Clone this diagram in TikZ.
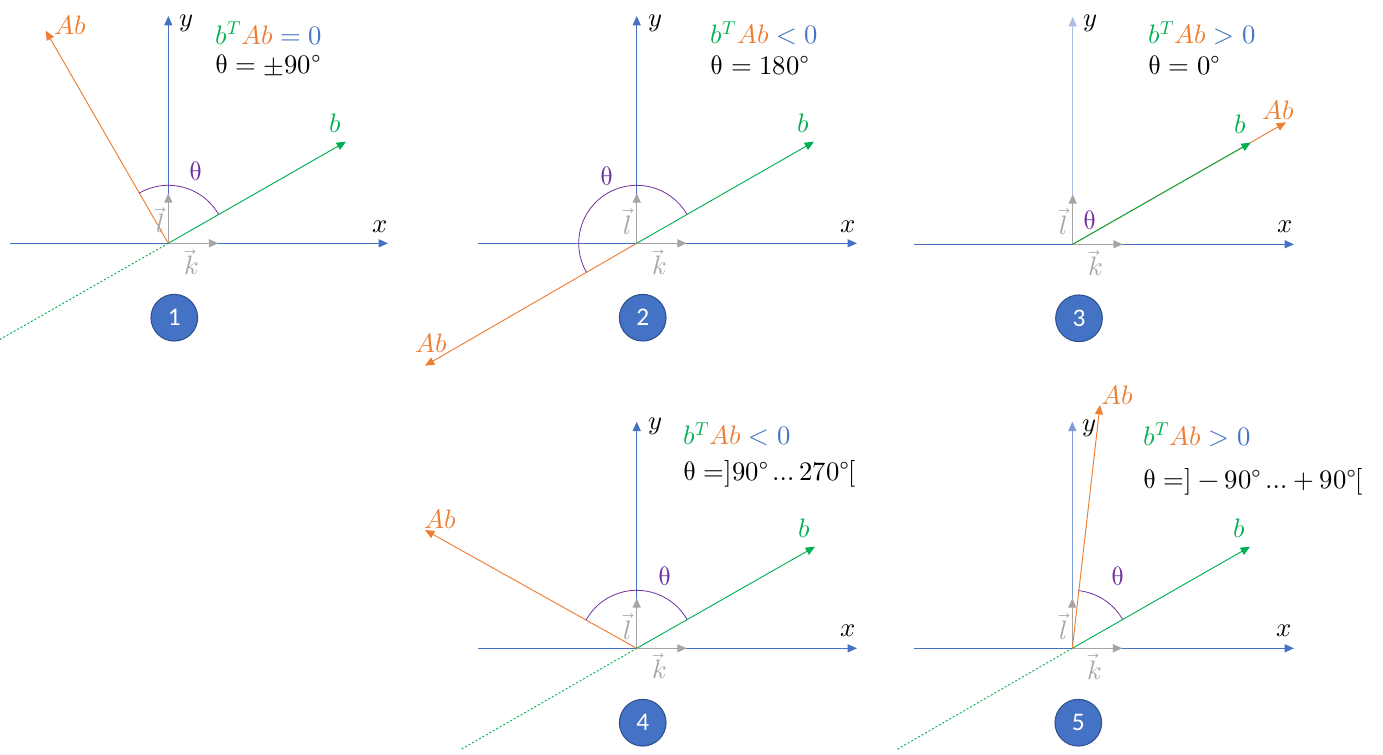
\documentclass[tikz,border=0pt]{standalone}
\usepackage{fontspec}
\usepackage{unicode-math}
\setmathfont{Latin Modern Math}
\newfontfamily\numfont{Carlito}
\newcommand{\dg}{\mbox{°}}
\usetikzlibrary{arrows.meta}
\definecolor{axblue}{HTML}{4472C4}
\definecolor{axlight}{HTML}{A9BDE6}
\definecolor{axmid}{HTML}{7C9BD6}
\definecolor{vgreen}{HTML}{00B050}
\definecolor{vorange}{HTML}{ED7D31}
\definecolor{vpurple}{HTML}{7030A0}
\definecolor{ugray}{HTML}{A5A5A5}
\definecolor{cborder}{HTML}{2F528F}
\begin{document}
\begin{tikzpicture}[x=0.75pt,y=0.75pt,
  tipstyle/.style={-{Triangle[length=7pt,width=6pt]}},
  axis/.style={draw=axblue, line width=0.8pt, tipstyle},
  bvec/.style={draw=vgreen, line width=0.7pt, tipstyle},
  bext/.style={draw=vgreen, line width=0.7pt, dash pattern=on 1.5pt off 1.5pt},
  abvec/.style={draw=vorange, line width=0.7pt, tipstyle},
  unitvec/.style={draw=ugray, line width=1pt, tipstyle},
  thetaarc/.style={draw=vpurple, line width=0.6pt},
  lbl/.style={inner sep=0pt, font=\fontsize{20}{24}\selectfont},
  eqn/.style={lbl, anchor=west},
  num/.style={circle, fill=axblue, draw=cborder, line width=0.8pt, minimum size=35pt, inner sep=0pt, text=white, font=\numfont\fontsize{19}{21}\selectfont}
]
\useasboundingbox (0,0) rectangle (1383,-755);

% ---------- Panel 1 ----------
\coordinate (o1) at (168.3,-243.3);
\coordinate (xa1) at (10,-243.3);
\coordinate (xb1) at (388,-243.3);
\coordinate (yb1) at (168.3,-16);
\coordinate (k1) at (218.3,-243.3);
\coordinate (l1) at (168.3,-193.3);
\coordinate (b1) at (346,-141.7);
\coordinate (ab1) at (45.7,-30.7);
\coordinate (e1) at (0,-339.4);
\draw[axis] (xa1) -- (xb1);
\draw[axis] (o1) -- (yb1);
\draw[unitvec] (o1) -- (k1);
\draw[unitvec] (o1) -- (l1);
\draw[bext] (o1) -- (e1);
\draw[bvec] (o1) -- (b1);
\draw[abvec] (o1) -- (ab1);
\draw[thetaarc] ([shift=(30:58)]o1) arc[start angle=30, end angle=120.2, radius=58];
\node[lbl] (ly1) at (186.7,-23) {$y$};
\node[lbl] (lx1) at (380,-226.7) {$x$};
\node[lbl, text=vgreen] (lb1) at (335.7,-123.3) {$b$};
\node[lbl, text=vorange] (lab1) at (70,-25) {$Ab$};
\node[lbl, text=vpurple] (lt1) at (195.7,-171.7) {$\uptheta$};
\node[lbl, text=ugray] (ll1) at (160,-220) {$\vec{l}$};
\node[lbl, text=ugray] (lk1) at (192,-262) {$\vec{k}$};
\node[num] (n1) at (174.3,-317.7) {1};
\node[eqn] (eqa1) at (215,-33.3) {$\color{vgreen}b^T\color{vorange}Ab\color{axblue}=0$};
\node[eqn] (eqb1) at (215,-65) {$\uptheta=\pm90\dg$};

% ---------- Panel 2 ----------
\coordinate (o2) at (636.7,-243.3);
\coordinate (xa2) at (478,-243.3);
\coordinate (xb2) at (857,-243.3);
\coordinate (yb2) at (636.7,-16);
\coordinate (k2) at (686.7,-243.3);
\coordinate (l2) at (636.7,-193.3);
\coordinate (b2) at (814,-141.7);
\coordinate (ab2) at (425,-365.7);
\draw[axis] (xa2) -- (xb2);
\draw[axis] (o2) -- (yb2);
\draw[unitvec] (o2) -- (k2);
\draw[unitvec] (o2) -- (l2);
\draw[bvec] (o2) -- (b2);
\draw[abvec] (o2) -- (ab2);
\draw[thetaarc] ([shift=(30:58)]o2) arc[start angle=30, end angle=210, radius=58];
\node[lbl] (ly2) at (655,-23) {$y$};
\node[lbl] (lx2) at (848,-226.7) {$x$};
\node[lbl, text=vgreen] (lb2) at (803,-123.3) {$b$};
\node[lbl, text=vorange] (lab2) at (431.7,-343.3) {$Ab$};
\node[lbl, text=vpurple] (lt2) at (607,-176.7) {$\uptheta$};
\node[lbl, text=ugray] (ll2) at (627.7,-221.7) {$\vec{l}$};
\node[lbl, text=ugray] (lk2) at (660,-262) {$\vec{k}$};
\node[num] (n2) at (642.7,-317.7) {2};
\node[eqn] (eqa2) at (710.7,-33.3) {$\color{vgreen}b^T\color{vorange}Ab\color{axblue}<0$};
\node[eqn] (eqb2) at (710.7,-65) {$\uptheta=180\dg$};

% ---------- Panel 3 ----------
\coordinate (o3) at (1072.7,-244.3);
\coordinate (xa3) at (914,-244.3);
\coordinate (xb3) at (1294,-244.3);
\coordinate (yb3) at (1072.7,-17);
\coordinate (k3) at (1122.7,-244.3);
\coordinate (l3) at (1072.7,-194.3);
\coordinate (b3) at (1250.7,-142.7);
\coordinate (ab3) at (1286,-122.3);
\draw[axis] (xa3) -- (xb3);
\draw[axis, draw=axlight] (o3) -- (yb3);
\draw[unitvec] (o3) -- (k3);
\draw[unitvec] (o3) -- (l3);
\draw[abvec] (o3) -- (ab3);
\draw[bvec] (o3) -- (b3);
\node[lbl] (ly3) at (1090.7,-23) {$y$};
\node[lbl] (lx3) at (1285,-226.7) {$x$};
\node[lbl, text=vgreen] (lb3) at (1240,-124) {$b$};
\node[lbl, text=vorange] (lab3) at (1278,-110) {$Ab$};
\node[lbl, text=vpurple] (lt3) at (1090,-220) {$\uptheta$};
\node[lbl, text=ugray] (ll3) at (1063.3,-221.7) {$\vec{l}$};
\node[lbl, text=ugray] (lk3) at (1096,-263) {$\vec{k}$};
\node[num] (n3) at (1079,-318.3) {3};
\node[eqn] (eqa3) at (1148.3,-33.3) {$\color{vgreen}b^T\color{vorange}Ab\color{axblue}>0$};
\node[eqn] (eqb3) at (1148.3,-65) {$\uptheta=0\dg$};

% ---------- Panel 4 ----------
\coordinate (o4) at (636.7,-648.3);
\coordinate (xa4) at (478,-648.3);
\coordinate (xb4) at (857,-648.3);
\coordinate (yb4) at (636.7,-421.7);
\coordinate (k4) at (686.7,-648.3);
\coordinate (l4) at (636.7,-598.3);
\coordinate (b4) at (815,-546.7);
\coordinate (ab4) at (425,-530);
\coordinate (e4) at (460,-750);
\draw[axis] (xa4) -- (xb4);
\draw[axis] (o4) -- (yb4);
\draw[unitvec] (o4) -- (k4);
\draw[unitvec] (o4) -- (l4);
\draw[bext] (o4) -- (e4);
\draw[bvec] (o4) -- (b4);
\draw[abvec] (o4) -- (ab4);
\draw[thetaarc] ([shift=(30:58)]o4) arc[start angle=30, end angle=150.8, radius=58];
\node[lbl] (ly4) at (655,-426.7) {$y$};
\node[lbl] (lx4) at (848,-630.7) {$x$};
\node[lbl, text=vgreen] (lb4) at (804,-528.3) {$b$};
\node[lbl, text=vorange] (lab4) at (440.7,-519.3) {$Ab$};
\node[lbl, text=vpurple] (lt4) at (665,-576.7) {$\uptheta$};
\node[lbl, text=ugray] (ll4) at (627.7,-626.7) {$\vec{l}$};
\node[lbl, text=ugray] (lk4) at (660,-666) {$\vec{k}$};
\node[num] (n4) at (642.7,-722.7) {4};
\node[eqn] (eqa4) at (683.3,-434.3) {$\color{vgreen}b^T\color{vorange}Ab\color{axblue}<0$};
\node[eqn] (eqb4) at (683.3,-474.3) {$\uptheta=]90\dg\ldots270\dg[$};

% ---------- Panel 5 ----------
\coordinate (o5) at (1072.3,-648.3);
\coordinate (xa5) at (914,-648.3);
\coordinate (xb5) at (1294,-648.3);
\coordinate (yb5) at (1072.3,-421.7);
\coordinate (k5) at (1122.3,-648.3);
\coordinate (l5) at (1072.3,-598.3);
\coordinate (b5) at (1250,-546.7);
\coordinate (ab5) at (1100,-405);
\coordinate (e5) at (896,-750);
\draw[axis] (xa5) -- (xb5);
\draw[axis, draw=axmid] (o5) -- (yb5);
\draw[unitvec] (o5) -- (k5);
\draw[unitvec] (o5) -- (l5);
\draw[bext] (o5) -- (e5);
\draw[bvec] (o5) -- (b5);
\draw[abvec] (o5) -- (ab5);
\draw[thetaarc] ([shift=(30:58)]o5) arc[start angle=30, end angle=83.9, radius=58];
\node[lbl] (ly5) at (1089,-428) {$y$};
\node[lbl] (lx5) at (1284,-630.7) {$x$};
\node[lbl, text=vgreen] (lb5) at (1239.3,-528.3) {$b$};
\node[lbl, text=vorange] (lab5) at (1117.3,-395) {$Ab$};
\node[lbl, text=vpurple] (lt5) at (1118.3,-576.7) {$\uptheta$};
\node[lbl, text=ugray] (ll5) at (1063.3,-626.7) {$\vec{l}$};
\node[lbl, text=ugray] (lk5) at (1095,-666.7) {$\vec{k}$};
\node[num] (n5) at (1078.3,-722.7) {5};
\node[eqn] (eqa5) at (1143.3,-435) {$\color{vgreen}b^T\color{vorange}Ab\color{axblue}>0$};
\node[eqn] (eqb5) at (1143.3,-481.7) {$\uptheta=]-90\dg\ldots+90\dg[$};
\end{tikzpicture}
\end{document}
